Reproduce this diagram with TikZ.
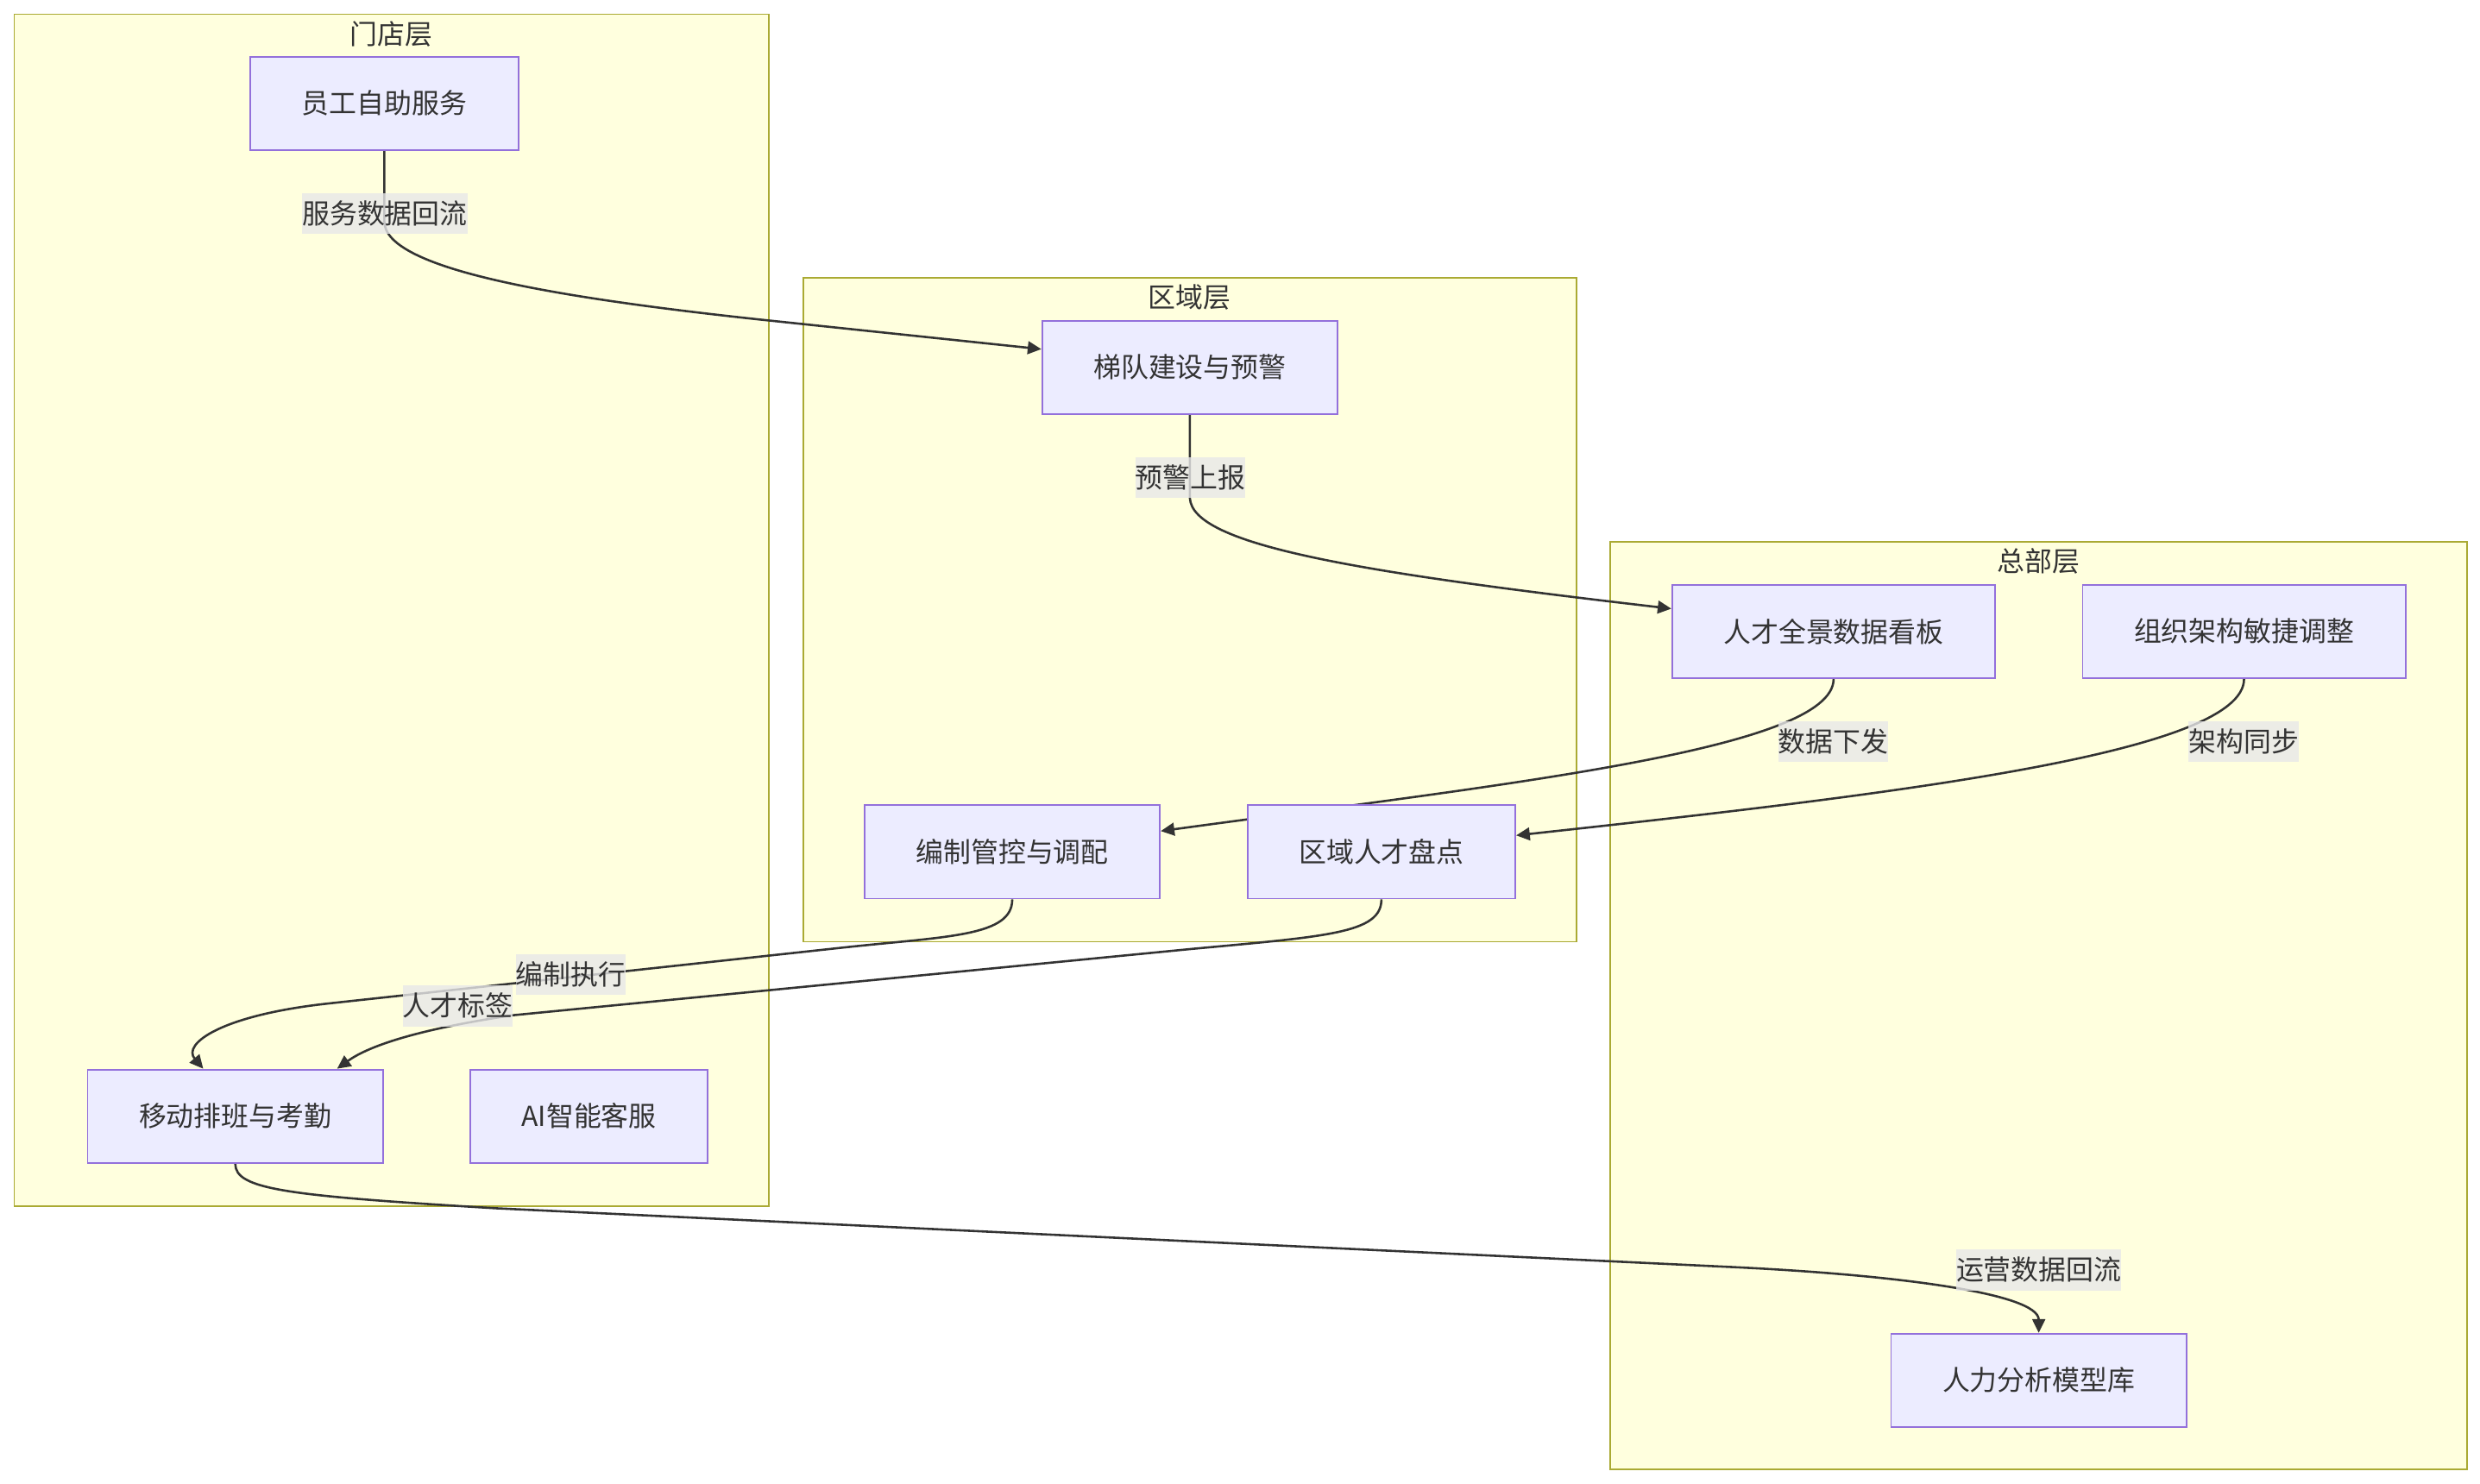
\documentclass[tikz,border=0pt]{standalone}
\usepackage{fontspec}
\newfontfamily\cjk{Noto Sans CJK SC}
\usetikzlibrary{arrows.meta}
\definecolor{layerfill}{HTML}{FFFFDE}
\definecolor{layerline}{HTML}{AAAA33}
\definecolor{boxfill}{HTML}{ECECFF}
\definecolor{boxline}{HTML}{9370DB}
\definecolor{ink}{HTML}{333333}
\definecolor{lblfill}{HTML}{E8E8E8}
\pgfdeclarelayer{frames}
\pgfdeclarelayer{links}
\pgfsetlayers{frames,links,main}
\tikzset{
  layer/.style={fill=layerfill, draw=layerline, line width=0.6pt},
  layertitle/.style={text=ink, font=\cjk\fontsize{9.9}{12}\selectfont, inner sep=0pt},
  box/.style={rectangle, fill=boxfill, draw=boxline, line width=0.6pt, text=ink,
    font=\cjk\fontsize{9.9}{12}\selectfont, minimum height=1.18cm, inner xsep=0.65cm},
  link/.style={draw=ink, line width=0.8pt, -{Triangle[length=4.9pt,width=4.6pt]}},
  linklabel/.style={fill=lblfill, fill opacity=0.8, text opacity=1, text=ink,
    font=\cjk\fontsize{9.9}{12}\selectfont, inner xsep=0pt, inner ysep=0pt, minimum height=0.52cm},
}
\begin{document}
\begin{tikzpicture}[x=0.02cm, y=-0.02cm]
    \useasboundingbox (0,0) rectangle (1568,938);
    % 门店层, 区域层, 总部层
    \foreach \n/\t/\a/\b/\c/\d in {mendian/门店层/9/9/486/762.5,
        quyuceng/区域层/507.7/175.6/996.6/595.5,
        zongbu/总部层/1018.2/342.6/1559.7/929} {
      \begin{pgfonlayer}{frames}
        \draw[layer] (\a,\b) rectangle (\c,\d);
      \end{pgfonlayer}
      \node[layertitle] (\n) at ({(\a+\c)/2},{\b+12.5}) {\t};
    }
    % nodes
    \node[box] (yuangong) at (243,65.4) {员工自助服务};
    \node[box] (tidui) at (752.3,232.3) {梯队建设与预警};
    \node[box] (rencai) at (1159.3,399.3) {人才全景数据看板};
    \node[box] (zuzhi) at (1418.8,399.3) {组织架构敏捷调整};
    \node[box] (bianzhi) at (640,538.7) {编制管控与调配};
    \node[box] (pandian) at (873.4,538.7) {区域人才盘点};
    \node[box] (yidong) at (148.75,705.8) {移动排班与考勤};
    \node[box] (kefu) at (372.4,705.8) {AI智能客服};
    \node[box] (moxing) at (1289,872.8) {人力分析模型库};
    % links
    \begin{pgfonlayer}{links}
      \draw[link] (yuangong.south) -- (243,140) .. controls (243,170) and (350,188) .. (480,202) -- (tidui.173);
      \draw[link] (tidui.south) -- (752.3,315) .. controls (754,345) and (860,362) .. (rencai.172);
      \draw[link] (rencai.south) .. controls (1159.3,474) and (950,496) .. (bianzhi.8);
      \draw[link] (zuzhi.south) .. controls (1418.8,476) and (1200,502) .. (pandian.7);
      \draw[link] (bianzhi.south) .. controls (640,592) and (600,592) .. (534.6,599) -- (207,634.6)
        .. controls (140,642) and (115,660) .. (yidong.124);
      \draw[link] (pandian.south) .. controls (873.4,590) and (840,592) .. (753.8,600) -- (323.9,642)
        .. controls (270,650) and (235,660) .. (yidong.25);
      \draw[link] (yidong.south) .. controls (148.75,752) and (180,756) .. (313,764) -- (1091,801)
        .. controls (1200,806) and (1289,818) .. (moxing.north);
    \end{pgfonlayer}
    % link labels
    \node[linklabel] (fuwu) at (243.3,135.1) {服务数据回流};
    \node[linklabel] (yujing) at (752.5,302) {预警上报};
    \node[linklabel] (xiafa) at (1159,469) {数据下发};
    \node[linklabel] (tongbu) at (1418.6,469) {架构同步};
    \node[linklabel] (zhixing) at (361,616.3) {编制执行};
    \node[linklabel] (biaoqian) at (289.3,636) {人才标签};
    \node[linklabel] (yunying) at (1289,803) {运营数据回流};
\end{tikzpicture}
\end{document}
